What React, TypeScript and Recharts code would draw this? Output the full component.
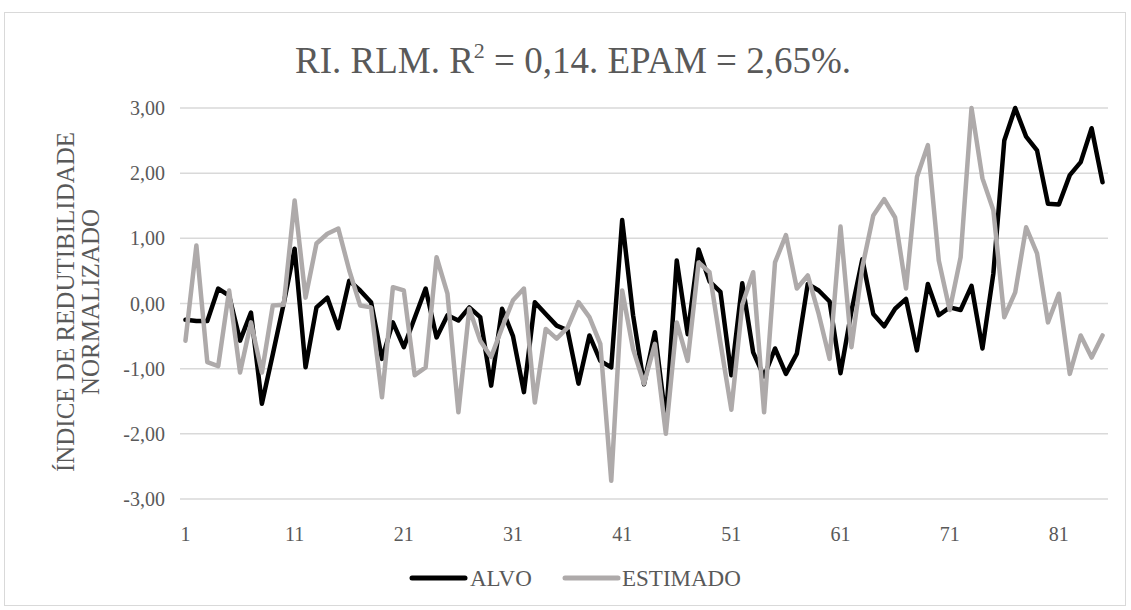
import React from "react";
import { LineChart, Line, XAxis, YAxis, CartesianGrid } from "recharts";

// valores (85 observações)
const ALVO = [
  -0.25, -0.27, -0.27, 0.23, 0.12, -0.57, -0.14, -1.54, -0.78, 0.0,
  0.84, -0.98, -0.06, 0.09, -0.38, 0.35, 0.2, 0.02, -0.85, -0.29,
  -0.67, -0.22, 0.23, -0.52, -0.18, -0.26, -0.06, -0.21, -1.26, -0.08,
  -0.5, -1.36, 0.02, -0.16, -0.34, -0.41, -1.23, -0.49, -0.88, -0.98,
  1.28, -0.18, -1.24, -0.44, -1.8, 0.66, -0.47, 0.83, 0.34, 0.18,
  -1.1, 0.31, -0.75, -1.12, -0.69, -1.08, -0.77, 0.3, 0.2, 0.03,
  -1.07, -0.12, 0.68, -0.16, -0.35, -0.08, 0.07, -0.72, 0.3, -0.18,
  -0.06, -0.1, 0.27, -0.69, 0.46, 2.5, 3.0, 2.56, 2.35, 1.53,
  1.52, 1.97, 2.17, 2.69, 1.86,
];

const ESTIMADO = [
  -0.57, 0.89, -0.9, -0.96, 0.2, -1.06, -0.29, -1.06, -0.03, -0.02,
  1.58, 0.09, 0.92, 1.07, 1.15, 0.51, -0.03, -0.06, -1.44, 0.25,
  0.2, -1.1, -0.98, 0.71, 0.15, -1.67, -0.08, -0.57, -0.82, -0.37,
  0.05, 0.23, -1.52, -0.39, -0.54, -0.37, 0.02, -0.21, -0.62, -2.72,
  0.2, -0.7, -1.23, -0.62, -2.0, -0.29, -0.88, 0.63, 0.48, -0.6,
  -1.63, -0.02, 0.48, -1.67, 0.63, 1.05, 0.23, 0.43, -0.16, -0.85,
  1.18, -0.67, 0.56, 1.35, 1.6, 1.32, 0.23, 1.94, 2.43, 0.66,
  -0.1, 0.71, 3.0, 1.92, 1.43, -0.21, 0.17, 1.17, 0.77, -0.29,
  0.15, -1.08, -0.49, -0.83, -0.49,
];

const X_TICKS = [1, 11, 21, 31, 41, 51, 61, 71, 81];
const Y_TICKS = [-3, -2, -1, 0, 1, 2, 3];

const data = ALVO.map((v, i) => ({ idx: i + 1, alvo: v, estimado: ESTIMADO[i] }));

const FONT = "'Liberation Serif', 'Times New Roman', serif";
const TXT = "#595959";
const GRAY = "#AEAAAA";

const fmt = (v: number) => v.toFixed(2).replace(".", ",");

const serif = { fontFamily: FONT };

export default function App() {
  return (
    <div style={{ position: "absolute", left: 0, top: 0, width: 1131, height: 610, background: "#fff", fontFamily: FONT }}>
      <div
        style={{
          position: "absolute",
          left: 4,
          top: 12,
          width: 1122,
          height: 594,
          border: "1px solid #d9d9d9",
          boxSizing: "border-box",
        }}
      />
      <div style={{ position: "absolute", left: 0, top: 0 }}>
        <LineChart width={1131} height={610} data={data} margin={{ top: 108, right: 23, left: 120, bottom: 81 }}>
          <CartesianGrid vertical={false} stroke="#d9d9d9" strokeWidth={1.5} />
          <XAxis
            dataKey="idx"
            type="number"
            domain={[0.5, 85.5]}
            ticks={X_TICKS}
            height={30}
            axisLine={false}
            tickLine={false}
            tickSize={0}
            tickMargin={28}
            interval={0}
            tick={{ fill: TXT, fontSize: 20, style: serif }}
          />
          <YAxis
            domain={[-3, 3]}
            ticks={Y_TICKS}
            width={60}
            axisLine={false}
            tickLine={false}
            tickSize={0}
            tickMargin={15}
            tickFormatter={fmt}
            tick={{ fill: TXT, fontSize: 20, style: serif }}
          />
          <Line type="linear" dataKey="alvo" stroke="#000" strokeWidth={4.5} dot={false} strokeLinejoin="round" strokeLinecap="round" isAnimationActive={false} />
          <Line type="linear" dataKey="estimado" stroke={GRAY} strokeWidth={4.5} dot={false} strokeLinejoin="round" strokeLinecap="round" isAnimationActive={false} />
        </LineChart>
      </div>
      <svg width={1131} height={610} style={{ position: "absolute", left: 0, top: 0, pointerEvents: "none", fontFamily: FONT }}>
        <text x={573} y={73} textAnchor="middle" fontSize={37} fill={TXT} style={serif}>
          RI. RLM. R<tspan fontSize={22} dy={-15}>2</tspan>
          <tspan dy={15}> = 0,14. EPAM = 2,65%.</tspan>
        </text>
        <g transform="rotate(-90)" fill={TXT} fontSize={25} style={serif}>
          <text x={-302} y={74} textAnchor="middle">ÍNDICE DE REDUTIBILIDADE</text>
          <text x={-302} y={99} textAnchor="middle">NORMALIZADO</text>
        </g>
        <line x1={412} y1={578} x2={465} y2={578} stroke="#000" strokeWidth={5} strokeLinecap="round" />
        <text x={470} y={586} fontSize={23} fill={TXT} style={serif}>ALVO</text>
        <line x1={565} y1={578} x2={618} y2={578} stroke={GRAY} strokeWidth={5} strokeLinecap="round" />
        <text x={622} y={586} fontSize={23} fill={TXT} style={serif}>ESTIMADO</text>
      </svg>
    </div>
  );
}
